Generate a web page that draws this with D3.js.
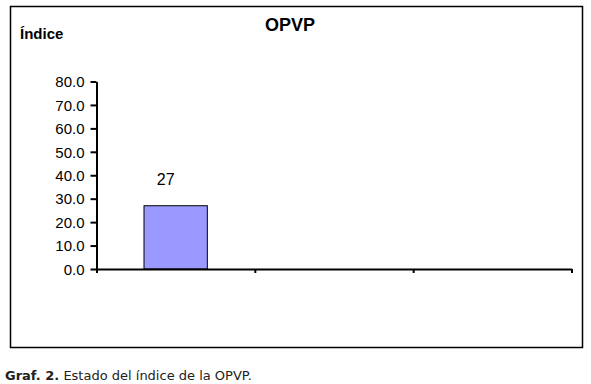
<!DOCTYPE html>
<html><head><meta charset="utf-8">
<script src="https://cdnjs.cloudflare.com/ajax/libs/d3/7.8.5/d3.min.js"></script>
<style>
body{margin:0;background:#fff;}
svg{display:block;}
</style></head>
<body>
<svg id="chart" width="591" height="384"></svg>
<script>
const categories = ["", "", ""];
const values = [27, null, null];
const dataLabels = ["27", "", ""];
const yTicks = [0, 10, 20, 30, 40, 50, 60, 70, 80];
const title = "OPVP";
const yTitle = "Índice";
const captionBold = "Graf. 2.";
const captionText = " Estado del índice de la OPVP.";

(function(){
const svg = d3.select("#chart");
const font = "'Liberation Sans', Arial, sans-serif";

// frame
svg.append("rect").attr("x", 10.5).attr("y", 6.5).attr("width", 572).attr("height", 341)
  .attr("fill", "#fff").attr("stroke", "#000").attr("stroke-width", 1.5);

const mLeft = 96.5, mRight = 571.5, mTop = 81.5, mBottom = 269;
const y = d3.scaleLinear().domain([0, 80]).range([mBottom, mTop]);
const x = d3.scaleBand().domain(d3.range(categories.length)).range([mLeft, mRight])
  .paddingInner(0.6).paddingOuter(0.3);
const xb = d3.scaleLinear().domain([0, categories.length]).range([mLeft, mRight]);

const pts = values.map((v, i) => ({v, i})).filter(d => d.v != null);

// bars
svg.selectAll("rect.bar").data(pts)
  .enter().append("rect").attr("class", "bar")
  .attr("x", d => x(d.i)).attr("width", x.bandwidth())
  .attr("y", d => y(d.v)).attr("height", d => y(0) - y(d.v))
  .attr("fill", "#9999FF").attr("stroke", "#000").attr("stroke-width", 1);

// data labels
svg.selectAll("text.dl").data(pts)
  .enter().append("text").attr("class", "dl")
  .attr("x", d => x(d.i) + x.bandwidth() / 2 - 10).attr("y", d => y(d.v) - 21)
  .attr("text-anchor", "middle").attr("font-family", font).attr("font-size", 16)
  .text(d => dataLabels[d.i]);

// y axis
const ya = svg.append("g").attr("transform", `translate(${mLeft},0)`)
  .call(d3.axisLeft(y).tickValues(yTicks).tickFormat(d3.format(".1f")).tickSize(6).tickSizeOuter(0));
ya.select(".domain").attr("stroke", "#000").attr("stroke-width", 2);
ya.selectAll(".tick line").attr("stroke", "#000").attr("stroke-width", 2);
ya.selectAll(".tick text").attr("font-family", font).attr("font-size", 15).attr("fill", "#000")
  .attr("x", -12).attr("dy", "0.35em");

// x axis
const xa = svg.append("g").attr("transform", `translate(0,${mBottom})`)
  .call(d3.axisBottom(xb).tickValues(d3.range(0, categories.length + 1)).tickFormat(() => "").tickSize(4).tickSizeOuter(0));
xa.select(".domain").attr("stroke", "#000").attr("stroke-width", 2);
xa.selectAll(".tick line").attr("stroke", "#000").attr("stroke-width", 2);

// titles
svg.append("text").attr("x", 290).attr("y", 31).attr("text-anchor", "middle")
  .attr("font-family", font).attr("font-weight", "bold").attr("font-size", 18).text(title);
svg.append("text").attr("x", 20).attr("y", 39)
  .attr("font-family", font).attr("font-weight", "bold").attr("font-size", 15).text(yTitle);

// caption
const cap = svg.append("text").attr("x", 5).attr("y", 380)
  .attr("font-family", "'DejaVu Sans', Verdana, sans-serif").attr("font-size", 13).attr("fill", "#222");
cap.append("tspan").attr("font-weight", "bold").text(captionBold);
cap.append("tspan").text(captionText);
})();
</script>
</body></html>
